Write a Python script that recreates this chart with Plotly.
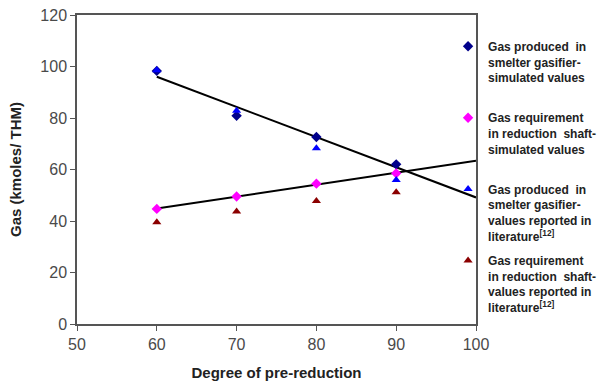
import numpy as np
import plotly.graph_objects as go

x_vals = [60, 70, 80, 90]
sim_produced = [98.3, 80.9, 72.6, 62.0]
sim_required = [44.7, 49.5, 54.5, 58.5]
lit_produced = [98.5, 82.8, 68.3, 55.9]
lit_required = [39.5, 43.7, 47.8, 51.2]

names = [
    "Gas produced  in<br>smelter gasifier-<br>simulated values<br> ",
    "Gas requirement<br>in reduction  shaft-<br>simulated values<br> ",
    "Gas produced  in<br>smelter gasifier-<br>values reported in<br>literature<sup>[12]</sup>",
    "Gas requirement<br>in reduction  shaft-<br>values reported in<br>literature<sup>[12]</sup>",
]
trend_x = [60, 100]

fig = go.Figure()

# trend lines (linear fits of simulated values)
for ys in (sim_produced, sim_required):
    k, b = np.polyfit(x_vals, ys, 1)
    fig.add_trace(go.Scatter(x=trend_x, y=[k * t + b for t in trend_x], mode="lines",
                             line=dict(color="black", width=2), showlegend=False,
                             hoverinfo="skip"))

series = [
    (sim_produced, names[0], "diamond", "#00008B", 8),
    (sim_required, names[1], "diamond", "#FF00FF", 8),
    (lit_produced, names[2], "triangle-up", "#0000FF", 8),
    (lit_required, names[3], "triangle-up", "#8B0000", 8),
]
for i, (ys, nm, sym, col, sz) in enumerate(series):
    fig.add_trace(go.Scatter(x=x_vals, y=ys, mode="markers", name=nm, legendgroup=str(i),
                             marker=dict(symbol=sym, color=col, size=sz)))

axis_common = dict(showline=True, linecolor="#555555", linewidth=1.5, mirror=True,
                   showgrid=False, zeroline=False, ticks="outside", ticklen=5,
                   tickcolor="#555555",
                   tickfont=dict(family="Liberation Sans, Arial", size=16, color="#4a4a4a"))

fig.update_layout(
    width=612, height=387,
    margin=dict(l=77, r=136, t=15, b=63, autoexpand=False),
    plot_bgcolor="white", paper_bgcolor="white",
    xaxis=dict(range=[50, 100], dtick=10,
               title=dict(text="<b>Degree of pre-reduction</b>", standoff=16,
                          font=dict(family="Liberation Sans, Arial", size=15, color="#222222")),
               **axis_common),
    yaxis=dict(range=[0, 120], dtick=20,
               title=dict(text="<b>Gas (kmoles/ THM)</b>", standoff=15,
                          font=dict(family="Liberation Sans, Arial", size=15, color="#222222")),
               **axis_common),
    legend=dict(x=0.93, xanchor="left", y=0.945, yanchor="top", valign="top",
                bgcolor="rgba(0,0,0,0)", tracegroupgap=6, itemwidth=30,
                font=dict(family="Liberation Sans, Arial", size=12, color="#222222",
                          weight="bold")),
    showlegend=True,
)

fig.write_html("out.html", config={"displayModeBar": False},
               post_script="document.body.style.margin='0';")
